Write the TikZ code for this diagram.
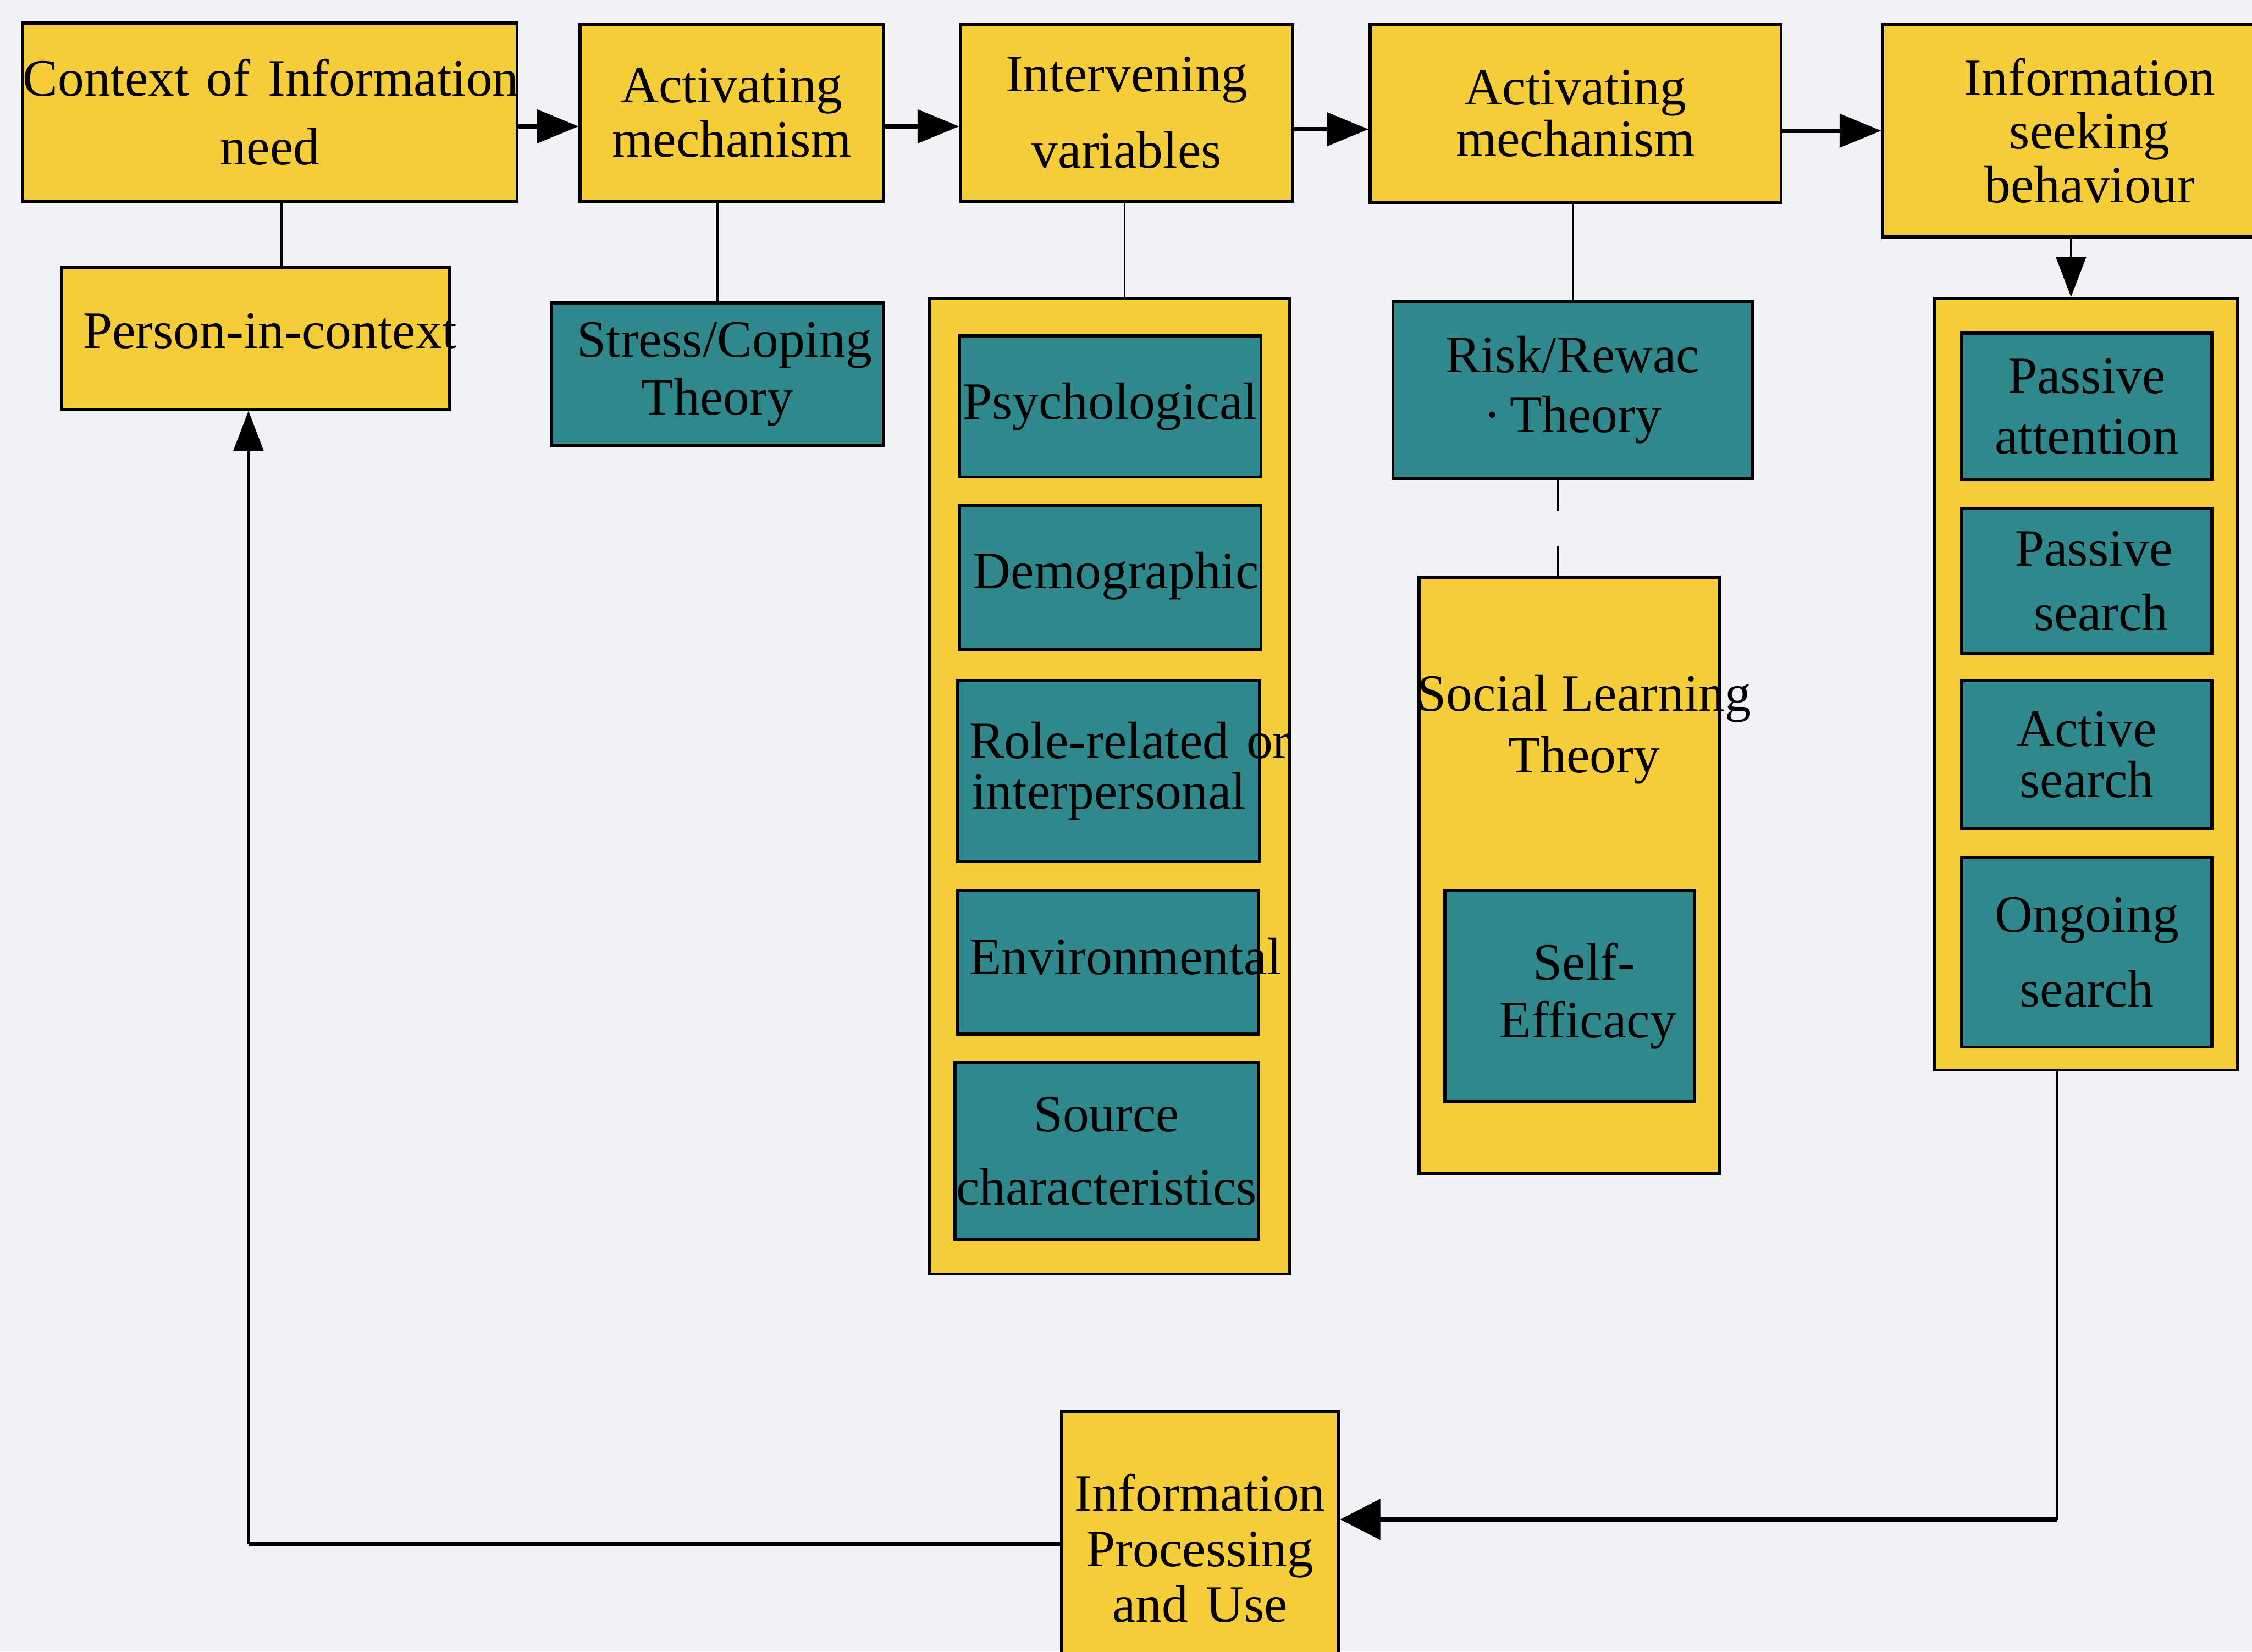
\documentclass[tikz,border=0pt]{standalone}
\usepackage{fontspec}
\setmainfont{Liberation Serif}
\usetikzlibrary{arrows.meta,calc}
\definecolor{bgc}{RGB}{241,241,246}
\definecolor{yel}{RGB}{244,205,56}
\definecolor{tea}{RGB}{47,137,140}
\begin{document}
\begin{tikzpicture}[x=0.01cm,y=-0.01cm,
  box/.style={draw=black, line width=0.6pt, inner sep=0pt, align=center,
    font=\fontsize{10.4pt}{11.4pt}\selectfont},
  ybox/.style={box, fill=yel},
  tbox/.style={box, fill=tea},
  ls/.style={font=\fontsize{10.4pt}{#1pt}\selectfont},
  conn/.style={draw=black, line width=0.4pt},
  hline/.style={draw=black, line width=0.85pt},
  flow/.style={draw=black, line width=0.85pt, -{Triangle[length=0.29cm,width=0.23cm]}},
  vflow/.style={draw=black, line width=0.4pt, -{Triangle[length=0.28cm,width=0.21cm]}},
  hflow/.style={draw=black, line width=0.85pt, -{Triangle[length=0.28cm,width=0.28cm]}}
]
\fill[bgc] (0,0) rectangle (1568,1150);
\useasboundingbox (0,0) rectangle (1568,1150);

% top row
\node[ybox, text width=3.44cm, minimum height=1.24cm, ls=13.7] (ctx) at (188,78) {\mbox{Context of Information}\\need};
\node[ybox, text width=2.11cm, minimum height=1.23cm, ls=10.8] (act1) at (509.5,78.5) {Activating\\mechanism};
\node[ybox, text width=2.31cm, minimum height=1.23cm, ls=15.1] (iv) at (784.5,78.5) {Intervening\\variables};
\node[ybox, text width=2.86cm, minimum height=1.24cm, ls=10.2] (act2) at (1097,79) {Activating\\mechanism};
\node[ybox, text width=2.88cm, minimum height=1.48cm, ls=10.6] (isb) at (1455,91) {Information\\seeking\\behaviour};

% second level
\node[ybox, text width=2.70cm, minimum height=0.99cm] (pic) at (178,235.5) {\raisebox{0.1cm}{\mbox{\hspace*{0.15cm}Person-in-context}}};
\node[tbox, text width=2.31cm, minimum height=0.99cm, ls=11.4] (stress) at (499.5,260.5) {\mbox{\hspace*{0.1cm}Stress/Coping}\\Theory};

% intervening variables container
\node[ybox, minimum width=2.51cm, minimum height=6.79cm] (ivc) at (772.5,547.5) {};
\node[tbox, text width=2.10cm, minimum height=0.98cm] (psy) at (773,283) {\raisebox{0.08cm}{Psychological}};
\node[tbox, text width=2.10cm, minimum height=1.00cm] (dem) at (773,402) {\raisebox{0.1cm}{\mbox{\hspace*{0.08cm}Demographic}}};
\node[tbox, text width=2.10cm, minimum height=1.26cm, ls=10] (role) at (772,537) {\mbox{\hspace*{0.08cm}Role-related or}\\interpersonal};
\node[tbox, text width=2.09cm, minimum height=1.00cm] (env) at (771.5,670) {\raisebox{0.08cm}{\mbox{\hspace*{0.08cm}Environmental}}};
\node[tbox, text width=2.11cm, minimum height=1.23cm, ls=14.5] (src) at (770.5,801.5) {Source\\characteristics};

% risk / reward
\node[tbox, text width=2.50cm, minimum height=1.23cm, ls=11.9] (risk) at (1095,271.5) {Risk/Rewac\\\textperiodcentered\,Theory};
\node[ybox, minimum width=2.09cm, minimum height=4.15cm] (slt) at (1092.5,609.5) {};
\node[inner sep=0pt, align=center, ls=12.2] (sltT) at (1103,508) {Social Learning\\Theory};
\node[tbox, text width=1.74cm, minimum height=1.47cm, ls=11.4] (self) at (1093,693.5) {\hspace*{0.2cm}Self-\\\hspace*{0.25cm}Efficacy};

% information seeking container
\node[ybox, minimum width=2.11cm, minimum height=5.37cm] (isc) at (1452.5,476.5) {};
\node[tbox, text width=1.74cm, minimum height=1.02cm, ls=11.9] (pa) at (1453,283) {Passive\\attention};
\node[tbox, text width=1.74cm, minimum height=1.01cm, ls=12.8] (ps) at (1453,404.5) {\hspace*{0.1cm}Passive\\\hspace*{0.2cm}search};
\node[tbox, text width=1.74cm, minimum height=1.03cm, ls=10.2] (as) at (1453,525.5) {Active\\search};
\node[tbox, text width=1.74cm, minimum height=1.32cm, ls=14.8] (os) at (1453,663) {Ongoing\\search};

% bottom
\node[ybox, text width=1.93cm, minimum height=1.90cm, ls=11] (ipu) at (835.5,1078) {Information\\Processing\\\mbox{and Use}};

% top-row arrows
\draw[flow] ($(ctx.east)+(0,10)$) -- ($(act1.west)+(0,9.5)$);
\draw[flow] ($(act1.east)+(0,9.5)$) -- ($(iv.west)+(0,9.5)$);
\draw[flow] ($(iv.east)+(0,11.5)$) -- ($(act2.west)+(0,11)$);
\draw[flow] (act2.east |- isb.west) -- (isb.west);

% vertical connectors
\draw[conn] ([xshift=0.08cm]ctx.south) -- ([xshift=0.08cm]ctx.south |- pic.north);
\draw[conn] (stress.north |- act1.south) -- (stress.north);
\draw[conn] ([xshift=-0.015cm]iv.south) -- ([xshift=-0.015cm]iv.south |- ivc.north);
\draw[conn] (risk.north |- act2.south) -- (risk.north);
\draw[conn, dash pattern=on 0.22cm off 0.24cm on 0.3cm] ([xshift=-0.1cm]risk.south) -- ([xshift=-0.1cm]risk.south |- slt.north);
\draw[vflow] ([xshift=-0.13cm]isb.south) -- ([xshift=-0.13cm]isb.south |- isc.north);

% feedback loop
\coordinate (iscb) at ($(isc.south)+(-20,0)$);
\coordinate (ipe) at ($(ipu.east)+(0,-20)$);
\draw[conn] (iscb) -- (iscb |- ipe) coordinate (cR);
\draw[hflow] (cR) -- (ipe);
\coordinate (pbot) at ($(pic.south)+(-5,0)$);
\coordinate (ipw) at ($(ipu.west)+(0,-3)$);
\draw[hline] (ipw) -- (ipw -| pbot) coordinate (cL);
\draw[vflow] (cL) -- (pbot);
\end{tikzpicture}
\end{document}
